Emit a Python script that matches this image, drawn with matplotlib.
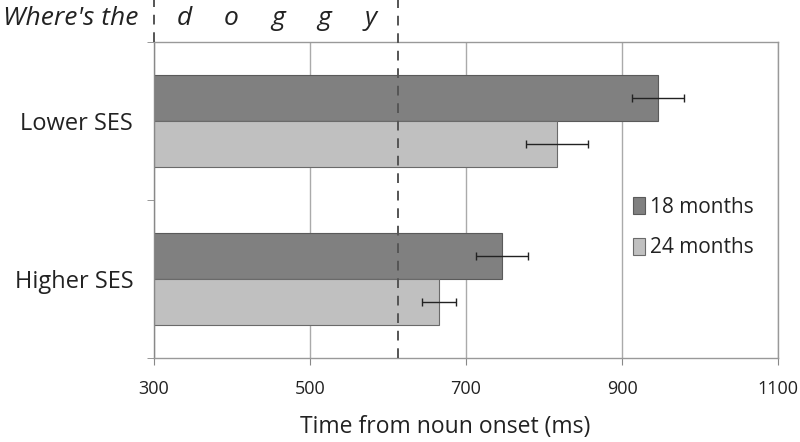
import matplotlib
matplotlib.use('Agg')
import matplotlib.pyplot as plt
import numpy as np

# Data
groups = ['Higher SES', 'Lower SES']
series = ['18 months', '24 months']
means_18 = [746, 946]
errs_18 = [33, 33]
means_24 = [665, 817]
errs_24 = [22, 40]
word_onset = 300
word_offset = 613
word_letters = ['d', 'o', 'g', 'g', 'y']
xticks = [300, 500, 700, 900, 1100]

plt.rcParams['font.family'] = ['Open Sans', 'DejaVu Sans']

fig = plt.figure(figsize=(8, 4.42), dpi=100)
ax = fig.add_axes([0.1925, 0.19, 0.78, 0.715])

y = np.arange(len(groups))
h = 0.29
ax.barh(y + h / 2, np.array(means_18) - 300, left=300, height=h, color='#808080',
        edgecolor='#5a5a5a', linewidth=0.8, label=series[0], zorder=2)
ax.barh(y - h / 2, np.array(means_24) - 300, left=300, height=h, color='#c0c0c0',
        edgecolor='#6a6a6a', linewidth=0.8, label=series[1], zorder=2)
ax.errorbar(means_18, y + h / 2, xerr=errs_18, fmt='none', ecolor='#222222',
            elinewidth=1, capsize=3, capthick=1, zorder=3)
ax.errorbar(means_24, y - h / 2, xerr=errs_24, fmt='none', ecolor='#222222',
            elinewidth=1, capsize=3, capthick=1, zorder=3)

ax.set_xlim(300, 1100)
ax.set_ylim(-0.5, 1.5)
ax.set_xticks(xticks)
ax.set_xticklabels([str(t) for t in xticks], fontsize=13)
ax.set_yticks(y)
ax.set_yticklabels(groups, fontsize=17, color='#222222')
ax.set_yticks([-0.5, 0.5, 1.5], minor=True)
ax.tick_params(axis='y', which='major', length=0, pad=15)
ax.tick_params(axis='y', which='minor', length=5, color='#888888', direction='out')
ax.tick_params(axis='x', length=5, color='#888888', direction='out', pad=11,
               labelcolor='#222222')
ax.grid(axis='x', color='#aaaaaa', linewidth=1, zorder=0)
ax.grid(axis='y', visible=False)
for s in ax.spines.values():
    s.set_color('#999999')
    s.set_linewidth(1)
ax.spines['left'].set_color('#888888')

ax.set_xlabel('Time from noun onset (ms)', fontsize=16.5, color='#222222')
ax.xaxis.set_label_coords(0.466, -0.18)

# Word window lines
ax.plot([word_offset, word_offset], [-0.5, 1.77], ls=(0, (5, 4)), color='#555555',
        lw=1.4, clip_on=False, zorder=4)
ax.plot([word_onset, word_onset], [1.5, 1.77], ls=(0, (5, 4)), color='#555555',
        lw=1.4, clip_on=False, zorder=4)

# Sentence text above the axes
fig.text(0.088, 0.958, "Where's the", fontsize=19, style='italic', ha='center',
         va='center', color='#222222')
letter_x = np.linspace(0.231, 0.463, len(word_letters))
for lx, l in zip(letter_x, word_letters):
    fig.text(lx, 0.958, l, fontsize=19, style='italic', ha='center', va='center',
             color='#222222')

ax.legend(loc='center left', bbox_to_anchor=(0.767, 0.413), frameon=False, fontsize=15,
          handlelength=0.6, handleheight=0.9, handletextpad=0.25, labelspacing=0.95,
          borderpad=0, borderaxespad=0, labelcolor='#222222')

fig.savefig('out.png', dpi=100)
